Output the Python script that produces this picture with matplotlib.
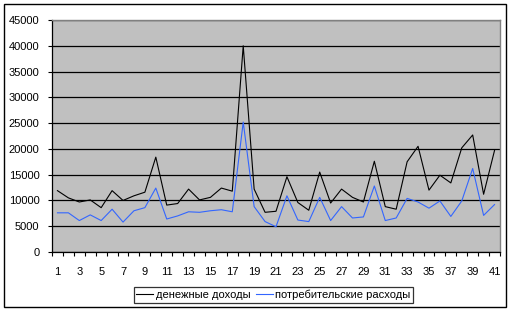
import matplotlib
matplotlib.use("Agg")
import matplotlib.pyplot as plt
from matplotlib.patches import Rectangle
from matplotlib.ticker import FixedLocator

plt.rcParams['font.family'] = ['Liberation Sans', 'DejaVu Sans']

categories = list(range(1, 42))
income = [11900, 10500, 9700, 10100, 8600, 11900, 10000, 10900, 11600, 18400,
          9100, 9400, 12200, 10100, 10600, 12400, 11800, 40000, 12200, 7700,
          7900, 14600, 9600, 8100, 15500, 9500, 12200, 10600, 9700, 17600,
          8800, 8300, 17500, 20500, 12000, 14900, 13400, 20200, 22700, 11200, 19700]
spending = [7600, 7600, 6100, 7200, 6100, 8300, 5800, 8000, 8600, 12400,
            6400, 7000, 7800, 7700, 8000, 8200, 7800, 25200, 8800, 5900,
            4900, 10900, 6200, 5900, 10600, 6100, 8800, 6600, 6800, 12800,
            6100, 6600, 10400, 9700, 8500, 9900, 6900, 9900, 16200, 7100, 9200]
series_names = ["денежные доходы", "потребительские расходы"]
yticks = list(range(0, 45001, 5000))

W, H = 512, 312
fig = plt.figure(figsize=(W / 100, H / 100), dpi=100)
fig.patch.set_facecolor('white')

# outer chart border
fig.patches.append(Rectangle((4 / W, 1 - 307 / H), 502 / W, 303 / H,
                             transform=fig.transFigure, fill=False,
                             edgecolor='black', linewidth=1.0))

ax = fig.add_axes([52 / W, 1 - 252 / H, 448 / W, 232 / H])
ax.set_facecolor('#c0c0c0')

ax.plot(categories, income, color='black', linewidth=0.8, label=series_names[0], zorder=3)
ax.plot(categories, spending, color='#3366ff', linewidth=0.8, label=series_names[1], zorder=3)

ax.set_xlim(0.5, 41.5)
ax.set_ylim(0, 45000)
ax.set_yticks(yticks)
ax.set_yticklabels([str(v) for v in yticks])
ax.yaxis.grid(True, color='black', linewidth=0.9)
ax.set_axisbelow(True)

ax.xaxis.set_major_locator(FixedLocator(categories[::2]))
ax.set_xticklabels([str(c) for c in categories[::2]])
ax.xaxis.set_minor_locator(FixedLocator([c + 0.5 for c in [0] + categories]))
ax.tick_params(axis='x', which='major', length=0, pad=11, labelsize=8)
ax.tick_params(axis='x', which='minor', length=3, width=0.8, direction='out', color='black')
ax.tick_params(axis='y', which='major', length=3, width=0.8, direction='out', pad=6, labelsize=8)

for s in ['left', 'bottom']:
    ax.spines[s].set_color('black')
    ax.spines[s].set_linewidth(0.9)
for s in ['top', 'right']:
    ax.spines[s].set_color('#808080')
    ax.spines[s].set_linewidth(1.0)

leg = fig.legend(loc='center', bbox_to_anchor=(273.5 / W, 1 - 295 / H), ncol=2,
                 fontsize=8, frameon=True, fancybox=False, handlelength=1.5,
                 handletextpad=0.25, columnspacing=0.5, borderpad=0.25,
                 borderaxespad=0)
leg.get_frame().set_edgecolor('black')
leg.get_frame().set_linewidth(0.9)

fig.savefig('out.png', dpi=100)
